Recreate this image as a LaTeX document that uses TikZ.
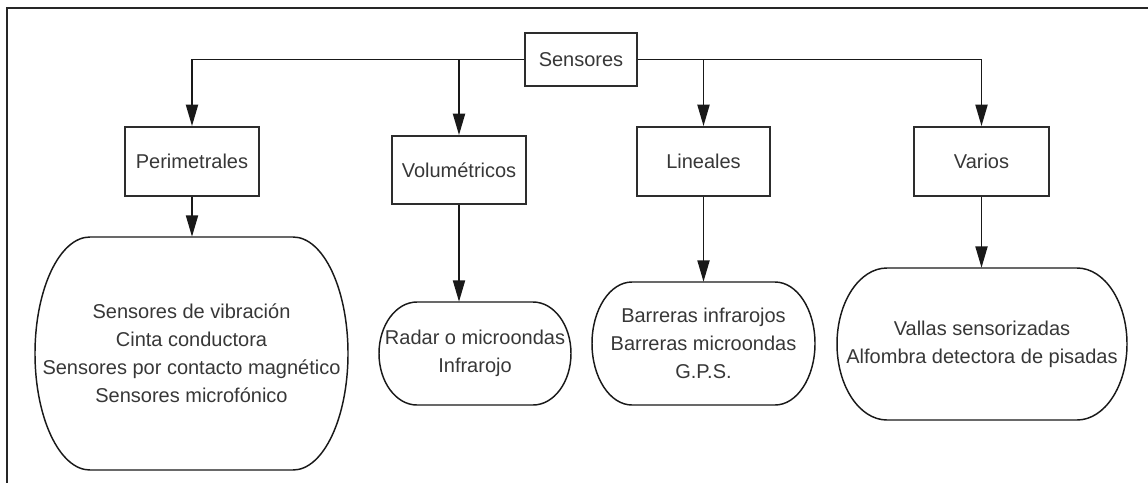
\documentclass[tikz,border=0pt]{standalone}
\usepackage{fontspec}
\setmainfont{Liberation Sans}
\usepackage{tikz}
\usepackage{xcolor}
\usetikzlibrary{arrows.meta}

\definecolor{inkgray}{RGB}{45,45,45}
\definecolor{txtgray}{RGB}{55,55,55}

% terminator outline: centre x, centre y, half width, half height, radius of the ends
\newcommand{\termshape}[5]{%
  \draw[termline] ({#1-#3+#5},{#2-#4}) -- ({#1+#3-#5},{#2-#4})
    arc[start angle=-90,end angle=90,x radius=#5,y radius=#4]
    -- ({#1-#3+#5},{#2+#4})
    arc[start angle=90,end angle=270,x radius=#5,y radius=#4] -- cycle ;}

\begin{document}
\begin{tikzpicture}[x=0.75pt,y=0.75pt,yscale=-1,xscale=1,
  txt/.style={text=txtgray,font=\fontsize{15}{21}\selectfont,align=center},
  catbox/.style={txt,draw=inkgray,line width=1.4pt,inner sep=0pt},
  listnode/.style={txt,inner sep=0pt},
  termline/.style={draw=black!90,line width=1.1pt},
  conn/.style={draw=black!90,line width=1.4pt},
  arr/.style={conn,-{Triangle[length=16pt,width=9pt]}}]
\useasboundingbox (0,0) rectangle (1148,482);
\clip (0,0) rectangle (1148,482);

%Shape: Frame
\draw [line width=1.2pt,draw=black!85] (7,490) -- (7,8) -- (1160,8) ;

% Text Node
\node [catbox,minimum width=84pt,minimum height=39.75pt] (sens) at (581,59.5) {Sensores};
% Text Node
\node [catbox,minimum width=100.5pt,minimum height=51.75pt] (peri) at (192,161.5) {Perimetrales};
% Text Node
\node [catbox,minimum width=100.5pt,minimum height=51pt] (volu) at (459,170) {Volumétricos};
% Text Node
\node [catbox,minimum width=99.75pt,minimum height=51.75pt] (line) at (703.5,161.5) {Lineales};
% Text Node
\node [catbox,minimum width=101.25pt,minimum height=51.75pt] (vari) at (981.5,161.5) {Varios};

%Shape: Terminator
\termshape{191.5}{353.5}{156.5}{116.5}{55}
\node [listnode,minimum width=234.75pt,minimum height=174.75pt] (perilist) at (191.5,353.5)
  {Sensores de vibración\\Cinta conductora\\Sensores por contacto magnético\\Sensores microfónico};
%Shape: Terminator
\termshape{475}{353.5}{96}{51.5}{38}
\node [listnode,minimum width=144pt,minimum height=77.25pt] (volulist) at (475,353.5)
  {Radar o microondas\\Infrarojo};
%Shape: Terminator
\termshape{703.5}{343.5}{111.5}{61.5}{40}
\node [listnode,minimum width=167.25pt,minimum height=92.25pt] (linelist) at (703.5,343.5)
  {Barreras infrarojos\\Barreras microondas\\G.P.S.};
%Shape: Terminator
\termshape{982}{344}{145}{76}{50}
\node [listnode,minimum width=217.5pt,minimum height=114pt] (varilist) at (982,344)
  {Vallas sensorizadas\\Alfombra detectora de pisadas};

%Straight Lines
\draw [arr] (sens.west) -| (peri.north) ;
\draw [arr] (sens.east) -| (vari.north) ;
\draw [arr] (volu.north |- sens.west) -- (volu.north) ;
\draw [arr] (line.north |- sens.east) -- (line.north) ;

%Straight Lines
\draw [arr] (peri.south) -- (peri.south |- perilist.north) ;
\draw [arr] (volu.south) -- (volu.south |- volulist.north) ;
\draw [arr] (line.south) -- (line.south |- linelist.north) ;
\draw [arr] (vari.south) -- (vari.south |- varilist.north) ;

\end{tikzpicture}
\end{document}
